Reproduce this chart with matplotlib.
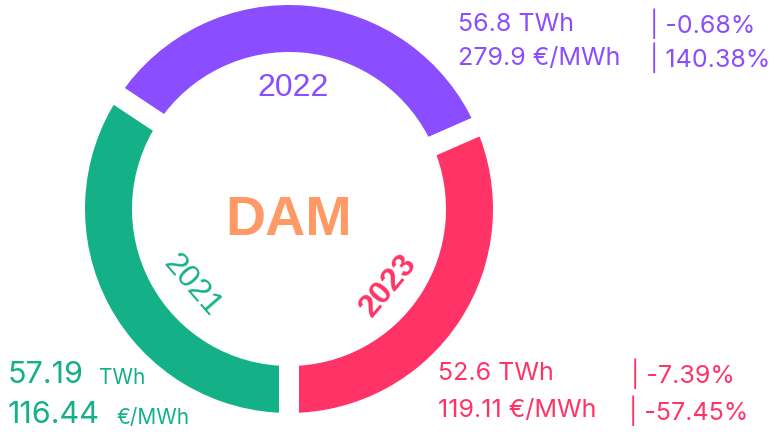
import matplotlib.pyplot as plt

# data
years = ['2021', '2022', '2023']
energy_twh = [57.19, 56.8, 52.6]
price_eur_mwh = [116.44, 279.9, 119.11]
energy_change = ['', '-0.68%', '-7.39%']
price_change = ['', '140.38%', '-57.45%']
colors = ['#14B189', '#8A4DFF', '#FF3366']

plt.rcParams['font.family'] = ['Inter', 'DejaVu Sans']

fig = plt.figure(figsize=(7.76, 4.36), dpi=100)
ax = fig.add_axes([0, 0, 1, 1])

# ring: white edges make the gaps between the segments
ax.pie(energy_twh, colors=colors, startangle=-90, counterclock=False,
       center=(289, 227), radius=214, frame=True,
       wedgeprops=dict(width=67, edgecolor='white', linewidth=14.4))
ax.set_xlim(0, 776)
ax.set_ylim(0, 436)
ax.axis('off')

ax.text(289, 215, 'DAM', color='#FF9966', fontsize=40, fontweight='bold',
        family='Liberation Sans', ha='center', va='center')

# year labels on the ring
ax.text(293, 348, years[1], color=colors[1], fontsize=23, family='Liberation Sans',
        ha='center', va='center')
ax.text(192, 150, years[0], color=colors[0], fontsize=23, family='Liberation Sans',
        ha='center', va='center', rotation=-49, rotation_mode='anchor')
ax.text(389, 150, years[2], color=colors[2], fontsize=23, family='Liberation Sans',
        fontweight='bold', ha='center', va='center', rotation=50, rotation_mode='anchor')

# 2022 figures, top right
ax.text(458, 412, f'{energy_twh[1]} TWh', color=colors[1], fontsize=18, va='center')
ax.text(650, 412, f'| {energy_change[1]}', color=colors[1], fontsize=18, va='center')
ax.text(458, 378, f'{price_eur_mwh[1]} €/MWh', color=colors[1], fontsize=18, va='center')
ax.text(650, 378, f'| {price_change[1]}', color=colors[1], fontsize=18, va='center')

# 2023 figures, bottom right
ax.text(438, 62, f'{energy_twh[2]} TWh', color=colors[2], fontsize=18, va='center')
ax.text(631, 62, f'| {energy_change[2]}', color=colors[2], fontsize=18, va='center')
ax.text(438, 25, f'{price_eur_mwh[2]} €/MWh', color=colors[2], fontsize=18, va='center')
ax.text(629, 25, f'| {price_change[2]}', color=colors[2], fontsize=18, va='center')

# 2021 figures, bottom left
ax.text(8, 61, f'{energy_twh[0]}', color=colors[0], fontsize=22, va='center')
ax.text(99, 58, 'TWh', color=colors[0], fontsize=15, va='center')
ax.text(8, 21, f'{price_eur_mwh[0]}', color=colors[0], fontsize=22, va='center')
ax.text(116, 18, '€/MWh', color=colors[0], fontsize=15, va='center')

fig.savefig('out.png', dpi=100)
